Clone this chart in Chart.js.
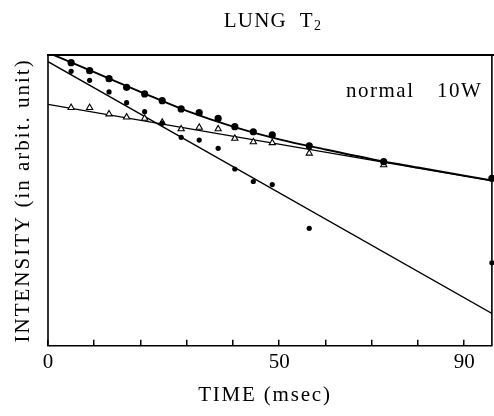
<!DOCTYPE html>
<html>
<head>
<meta charset="utf-8">
<script src="https://cdn.jsdelivr.net/npm/chart.js@4.4.0/dist/chart.umd.min.js"></script>
<style>
  html, body { margin: 0; padding: 0; background: #fff; overflow: hidden; }
  #outer { width: 494px; height: 416px; overflow: hidden; }
  #wrap { position: relative; width: 497px; height: 416px; }
</style>
</head>
<body>
<div id="outer"><div id="wrap"><canvas id="t2Chart"></canvas></div></div>
<script>
// echo times (msec)
const times = [5, 9, 13.2, 17, 20.9, 24.7, 28.8, 32.7, 36.8, 40.4, 44.4, 48.5, 56.5, 72.6, 96];
// signal intensity, arbitrary units (null = no measurement)
const bigDots   = [97.35, 94.6, 91.85, 88.9, 86.6, 84.3, 81.45, 80.15, 78.2, 75.35, 73.6, 72.5, 68.8, 63.3, 57.6];
const smallDots = [94.4, 91.3, 87.3, 83.6, 80.5, 76.5, 71.7, 70.75, 67.9, 60.8, 56.5, 55.45, 40.4, null, 28.55];
const triangles = [81.9, 81.9, 79.7, 78.6, 78.2, 76.8, 74.55, 75.1, 74.55, 71.3, 70.1, 69.8, 66.2, 62.2, null];

// fitted decay curves
const fitTimesBig = [0, 10, 20, 30, 40, 50, 60, 70, 80, 96];
const fitBig      = [100.8, 94.1, 87.35, 80.8, 75.4, 71.0, 67.5, 64.2, 61.3, 56.9];
const fitTimes    = [0, 96];
const fitSmall    = [97.7, 11.1];
const fitTri      = [83.0, 56.7];

const tickLabels = [0, 50, 90];

function pairs(xs, ys) {
  return xs.map((x, i) => ({ x: x, y: ys[i] })).filter(p => p.y !== null);
}

const serif = '"Liberation Serif", "DejaVu Serif", serif';

// frame round the plot, thick on top
const framePlugin = {
  id: 'frame',
  afterDatasetsDraw(chart) {
    const { ctx, chartArea: a } = chart;
    ctx.save();
    ctx.strokeStyle = '#000';
    ctx.lineWidth = 2.2;
    ctx.beginPath();
    ctx.moveTo(a.left - 1, a.top);
    ctx.lineTo(chart.width, a.top);
    ctx.stroke();
    ctx.lineWidth = 1.6;
    ctx.beginPath();
    ctx.moveTo(a.left, a.top);
    ctx.lineTo(a.left, a.bottom);
    ctx.lineTo(a.right, a.bottom);
    ctx.lineTo(a.right, a.top);
    ctx.stroke();
    ctx.restore();
  }
};

// title, axis titles and the sample note
const captionPlugin = {
  id: 'captions',
  afterDraw(chart) {
    const { ctx, chartArea: a } = chart;
    const midX = (a.left + a.right) / 2;
    const midY = (a.top + a.bottom) / 2;
    ctx.save();
    ctx.fillStyle = '#000';
    ctx.textBaseline = 'alphabetic';

    // LUNG T2
    ctx.letterSpacing = '1.2px';
    const main = 'LUNG  T';
    ctx.font = '21px ' + serif;
    const w1 = ctx.measureText(main).width;
    ctx.font = '14px ' + serif;
    const w2 = ctx.measureText('2').width;
    const x0 = midX + 3 - (w1 + w2) / 2;
    ctx.font = '21px ' + serif;
    ctx.textAlign = 'left';
    ctx.fillText(main, x0, 27);
    ctx.font = '14px ' + serif;
    ctx.fillText('2', x0 + w1, 30);

    // note in the upper right
    ctx.font = '21px ' + serif;
    ctx.letterSpacing = '1.5px';
    ctx.fillText('normal', a.left + 298, a.top + 42);
    ctx.fillText('10W', a.left + 389, a.top + 42);

    // x title
    ctx.letterSpacing = '1.8px';
    ctx.textAlign = 'center';
    ctx.fillText('TIME (msec)', midX - 5, 401);

    // y title
    ctx.letterSpacing = '2px';
    ctx.translate(29, midY);
    ctx.rotate(-Math.PI / 2);
    ctx.fillText('INTENSITY (in arbit. unit)', 0, 0);
    ctx.restore();
  }
};

const ctx = document.getElementById('t2Chart').getContext('2d');

const t2Chart = new Chart(ctx, {
  type: 'scatter',
  data: {
    datasets: [
      {
        label: 'large dots',
        data: pairs(times, bigDots),
        pointStyle: 'circle',
        pointRadius: 3.6,
        backgroundColor: '#000',
        borderColor: '#000',
        borderWidth: 0,
        clip: false,
        order: 0
      },
      {
        label: 'small dots',
        data: pairs(times, smallDots),
        pointStyle: 'circle',
        pointRadius: 2.6,
        backgroundColor: '#000',
        borderColor: '#000',
        borderWidth: 0,
        clip: false,
        order: 0
      },
      {
        label: 'triangles',
        data: pairs(times, triangles),
        pointStyle: 'triangle',
        pointRadius: 3.6,
        backgroundColor: '#fff',
        borderColor: '#000',
        borderWidth: 1.1,
        order: 0
      },
      {
        label: 'fit large',
        data: pairs(fitTimesBig, fitBig),
        showLine: true,
        cubicInterpolationMode: 'monotone',
        pointRadius: 0,
        borderColor: '#000',
        borderWidth: 1.9,
        order: 1
      },
      {
        label: 'fit small',
        data: pairs(fitTimes, fitSmall),
        showLine: true,
        pointRadius: 0,
        borderColor: '#000',
        borderWidth: 1.3,
        order: 1
      },
      {
        label: 'fit triangles',
        data: pairs(fitTimes, fitTri),
        showLine: true,
        pointRadius: 0,
        borderColor: '#000',
        borderWidth: 1.3,
        order: 1
      }
    ]
  },
  options: {
    responsive: true,
    maintainAspectRatio: false,
    animation: false,
    layout: { padding: { top: 55, left: 48, right: 0, bottom: 31 } },
    plugins: {
      legend: { display: false },
      tooltip: { enabled: false }
    },
    scales: {
      x: {
        type: 'linear',
        min: 0,
        max: 96,
        grid: { drawOnChartArea: false, drawTicks: true, tickLength: -6, color: '#000', lineWidth: 1.5 },
        border: { display: false },
        ticks: {
          stepSize: 10,
          includeBounds: false,
          autoSkip: false,
          maxRotation: 0,
          padding: 10,
          color: '#000',
          font: { family: serif, size: 21 },
          callback: v => tickLabels.includes(v) ? String(v) : ''
        }
      },
      y: { min: 0, max: 100, display: false }
    }
  },
  plugins: [framePlugin, captionPlugin]
});
</script>
</body>
</html>
